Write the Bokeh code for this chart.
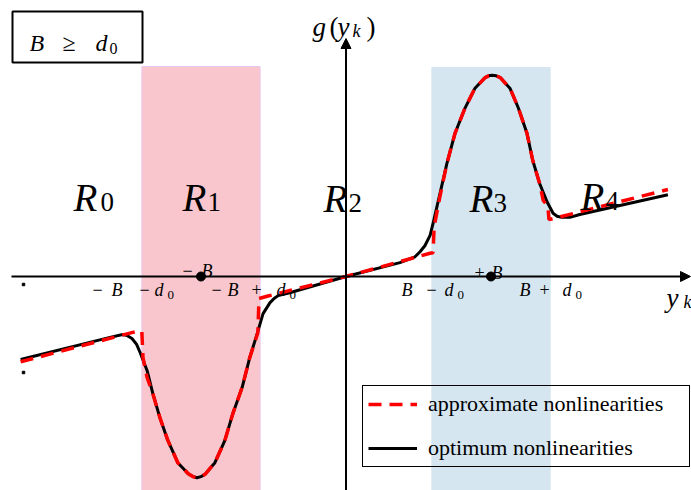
from bokeh.plotting import figure
from bokeh.models import Range1d, Arrow, NormalHead, Legend, LegendItem
from bokeh.core.properties import value
from bokeh.embed import file_html
from bokeh.resources import INLINE

# ---------------- chart values ----------------
B = 2.5          # position of the +B / -B markers
d0 = 1.02        # half width of the shaded regions

# optimum nonlinearity g(y_k)
opt_x = [-5.61, -4.07, -3.85, -3.77, -3.69, -3.61, -3.55, -3.43, -3.33, -3.21,
         -3.07, -2.90, -2.72, -2.64, -2.57, -2.50, -2.43, -2.26, -2.09, -1.95,
         -1.79, -1.66, -1.53, -1.43, -1.31, -1.24, -1.17, -0.97, 0.0, 0.93,
         1.19, 1.28, 1.36, 1.45, 1.50, 1.62, 1.74, 1.88, 2.05, 2.22,
         2.40, 2.46, 2.52, 2.59, 2.66, 2.83, 2.97, 3.12, 3.22, 3.34,
         3.47, 3.57, 3.64, 3.72, 3.86, 4.03, 5.55]
opt_y = [-1.43, -1.05, -1.00, -1.02, -1.07, -1.17, -1.31, -1.62, -2.02, -2.43,
         -2.83, -3.21, -3.40, -3.45, -3.47, -3.45, -3.41, -3.21, -2.83, -2.36,
         -1.91, -1.40, -0.98, -0.64, -0.45, -0.38, -0.33, -0.28, 0.0, 0.24,
         0.34, 0.43, 0.53, 0.71, 0.91, 1.43, 1.95, 2.47, 2.90, 3.24,
         3.43, 3.46, 3.47, 3.46, 3.43, 3.24, 2.91, 2.47, 2.00, 1.60,
         1.28, 1.09, 1.04, 1.02, 1.02, 1.07, 1.41]

# approximate nonlinearity
apx_x = [-5.61, -3.55, -3.52, -3.50, -3.43, -3.33, -3.21, -3.07, -2.90, -2.72,
         -2.64, -2.57, -2.50, -2.43, -2.26, -2.09, -1.95, -1.79, -1.66, -1.52,
         -1.50, -1.36, 0.0, 1.45, 1.50, 1.52, 1.62, 1.74, 1.88, 2.05,
         2.22, 2.40, 2.46, 2.52, 2.59, 2.66, 2.83, 2.97, 3.12, 3.22,
         3.34, 3.40, 3.48, 3.50, 5.55]
apx_y = [-1.47, -0.93, -0.95, -1.40, -1.74, -2.02, -2.43, -2.83, -3.21, -3.40,
         -3.45, -3.47, -3.45, -3.41, -3.21, -2.83, -2.36, -1.91, -1.40, -0.97,
         -0.38, -0.34, 0.0, 0.40, 0.41, 0.86, 1.38, 1.95, 2.47, 2.90,
         3.24, 3.43, 3.46, 3.47, 3.46, 3.43, 3.24, 2.91, 2.47, 2.00,
         1.60, 1.31, 1.21, 0.98, 1.50]

region_names = ["R", "R", "R", "R", "R"]
region_index = ["0", "1", "2", "3", "4"]
series_names = ["approximate nonlinearities", "optimum nonlinearities"]

# ---------------- layout ----------------
W, H = 691, 490
X0, Y0, S = 345.5, 276.0, 58.0   # origin pixel and pixels per unit
FONT = "Liberation Serif"


def px_x(px):
    return (px - X0) / S


def px_y(py):
    return (Y0 - py) / S


p = figure(width=W, height=H, output_backend="svg", toolbar_location=None,
           x_axis_location=None, y_axis_location=None, min_border=0,
           x_range=Range1d(px_x(0), px_x(W)), y_range=Range1d(px_y(H), px_y(0)))
p.grid.visible = False
p.outline_line_color = None
p.background_fill_color = "white"
p.border_fill_color = "white"

# shaded regions
p.quad(left=[-B - d0], right=[-B + d0], bottom=[px_y(H)], top=[px_y(66)],
       fill_color="#f8c6cc", line_color="#ebc8f3", line_width=1)
p.quad(left=[B - d0], right=[B + d0], bottom=[px_y(H)], top=[px_y(67)],
       fill_color="#d5e6f0", line_color="#d5e6f0", line_width=1)

# condition box
p.quad(left=[px_x(12)], right=[px_x(142)], top=[px_y(11)], bottom=[px_y(62)],
       fill_alpha=0, line_color="black", line_width=2)

# axes with arrows
p.add_layout(Arrow(end=NormalHead(size=10, fill_color="black", line_color="black", line_width=1),
                   x_start=px_x(11), y_start=0, x_end=px_x(690), y_end=0,
                   line_width=2, line_color="black"))
p.add_layout(Arrow(end=NormalHead(size=10, fill_color="black", line_color="black", line_width=1),
                   x_start=0, y_start=px_y(H), x_end=0, y_end=px_y(38),
                   line_width=2, line_color="black"))

# tiny marks on the left edge
p.scatter(x=[px_x(23), px_x(23)], y=[px_y(284), px_y(372)], marker="square",
          size=2.5, color="black")

# curves
r_opt = p.line(opt_x, opt_y, line_color="black", line_width=3, line_join="round")
r_apx = p.line(apx_x, apx_y, line_color="#ff0000", line_width=3.5, line_dash="13 8")

# +B / -B markers
p.scatter(x=[-B, B], y=[0, 0], size=9, color="black")


def put(tokens, size, style="normal"):
    p.text(x=[px_x(t[1]) for t in tokens], y=[px_y(t[2]) for t in tokens],
           text=[t[0] for t in tokens], text_font=value(FONT),
           text_font_size=size, text_font_style=style, text_align="left",
           text_baseline="alphabetic", text_color="black")


# condition box text: B >= d0
put([("B", 29, 42), ("d", 95, 42)], "24px", "italic")
put([("\u2265", 62, 42)], "24px")
put([("0", 109, 48)], "16px")

# y-axis title g(y_k)
put([("g", 312, 26), ("y", 337, 26)], "27px", "italic")
put([("(", 329, 26), (")", 366, 26)], "27px")
put([("k", 352, 30)], "18px", "italic")

# x-axis title y_k
put([("y", 666, 297)], "27px", "italic")
put([("k", 683, 301)], "18px", "italic")

# region labels
r_pos = [(73, 197), (182, 197), (323, 198), (469, 198), (580, 196)]
s_pos = [(100, 201), (207, 201), (348, 202), (493, 202), (605, 200)]
put([(n, x, y) for n, (x, y) in zip(region_names, r_pos)], "39px", "italic")
put([(n, x, y) for n, (x, y) in zip(region_index, s_pos)], "27px")

# tick-like labels
put([("B", 111, 289), ("d", 154, 289),      # -B - d0
     ("B", 201, 270),                       # -B
     ("B", 227, 289), ("d", 276, 289),      # -B + d0
     ("B", 491, 272),                       # +B
     ("B", 401, 289), ("d", 444, 289),      # B - d0
     ("B", 519, 289), ("d", 562, 289)],     # B + d0
    "18px", "italic")
put([("\u2212", 92, 289), ("\u2212", 139, 289),
     ("\u2212", 182, 270),
     ("\u2212", 211, 289), ("+", 251, 289),
     ("+", 474, 272),
     ("\u2212", 426, 289),
     ("+", 539, 289)], "18px")
put([("0", 167, 294), ("0", 289, 294), ("0", 457, 294), ("0", 575, 294)], "13px")

# legend
legend = Legend(items=[LegendItem(label=series_names[0], renderers=[r_apx]),
                       LegendItem(label=series_names[1], renderers=[r_opt])],
                location=(362, 23), padding=5, spacing=18,
                glyph_width=49, glyph_height=24, label_height=24, label_width=256,
                label_standoff=11, label_text_font=FONT, label_text_font_size="22px",
                label_text_color="black", label_text_baseline="middle",
                border_line_color="black", border_line_width=1.5, border_line_alpha=1,
                background_fill_alpha=0, margin=0)
p.add_layout(legend)

open("out.html", "w").write(file_html(p, INLINE))
